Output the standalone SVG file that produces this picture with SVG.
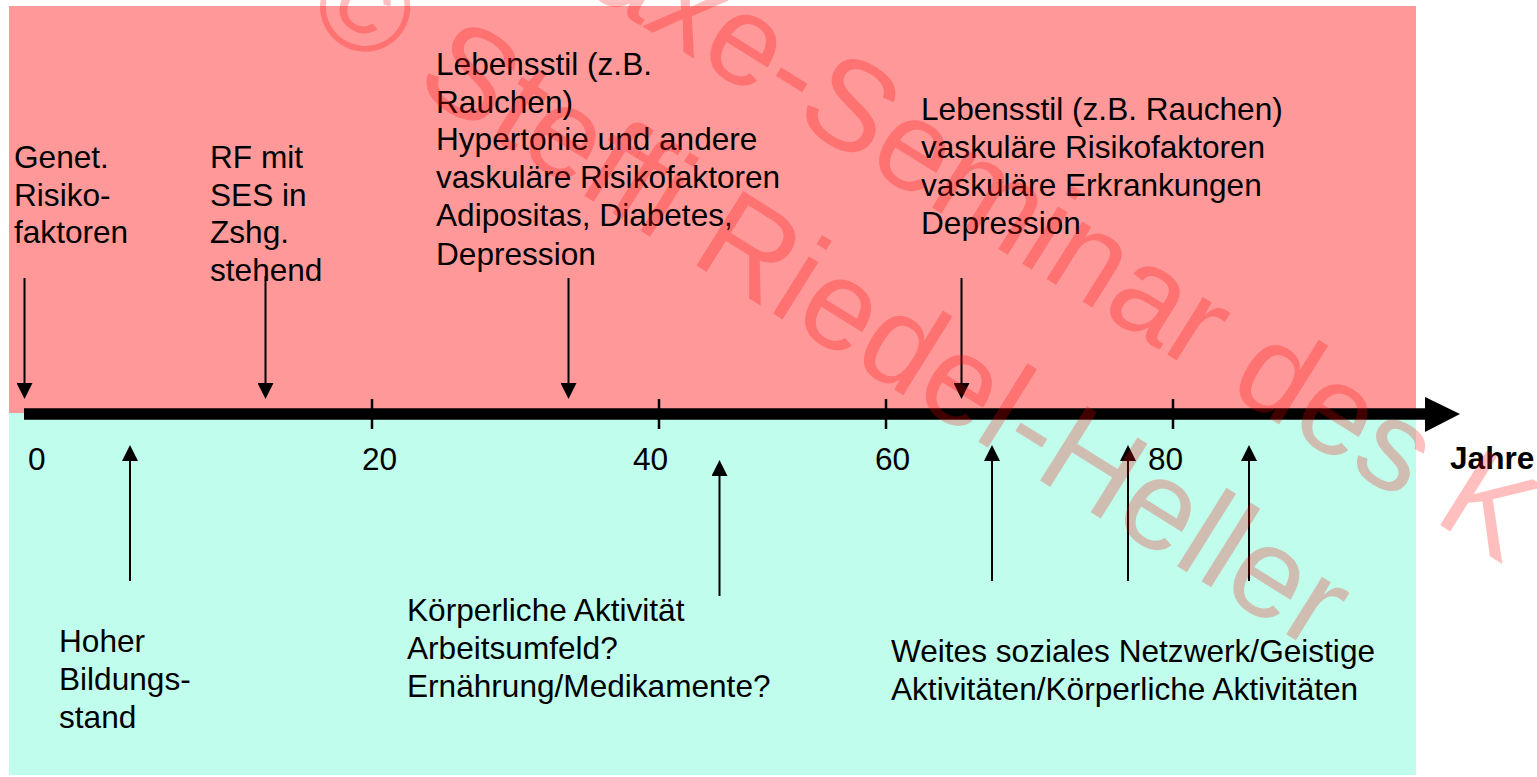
<svg xmlns="http://www.w3.org/2000/svg" width="1537" height="777" viewBox="0 0 1537 777">
<defs>
<style>
.t{font-family:"Liberation Sans",Arial,sans-serif;font-size:31.6px;fill:#000}
.b{font-weight:bold}
.wm{font-family:"Liberation Sans",Arial,sans-serif;font-size:128px;fill:#ff0000;fill-opacity:0.25}
.ar{stroke:#000;stroke-width:2;fill:none}
.tick{stroke:#000;stroke-width:2.5}
</style>
<marker id="head" markerUnits="userSpaceOnUse" viewBox="0 0 16 16" refX="0" refY="8" markerWidth="16" markerHeight="16" orient="auto">
<path d="M0,0 L16,8 L0,16 z" fill="#000"/>
</marker>
</defs>
<rect width="1537" height="777" fill="#fff"/>
<g id="background">
<rect x="9" y="6" width="1407" height="407" fill="#ff9999"/>
<rect x="9" y="413" width="1407" height="362" fill="#c0fdec"/>
</g>
<g id="axis">
<line x1="24" y1="414" x2="1426" y2="414" stroke="#000" stroke-width="11.5"/>
<polygon points="1425,397 1460,414 1425,432" fill="#000"/>
<line class="tick" x1="372" y1="399" x2="372" y2="429"/>
<line class="tick" x1="659" y1="399" x2="659" y2="429"/>
<line class="tick" x1="886" y1="399" x2="886" y2="429"/>
<line class="tick" x1="1173" y1="399" x2="1173" y2="429"/>
<text class="t" x="28" y="470">0</text>
<text class="t" x="362" y="470">20</text>
<text class="t" x="633" y="470">40</text>
<text class="t" x="875" y="470">60</text>
<text class="t" x="1148" y="470">80</text>
<text class="t b" x="1450" y="469">Jahre</text>
</g>
<g id="connectors">
<line class="ar" x1="24.5" y1="278" x2="24.5" y2="383" marker-end="url(#head)"/>
<line class="ar" x1="265.5" y1="276" x2="265.5" y2="383" marker-end="url(#head)"/>
<line class="ar" x1="568.5" y1="278" x2="568.5" y2="383" marker-end="url(#head)"/>
<line class="ar" x1="961.5" y1="278" x2="961.5" y2="383" marker-end="url(#head)"/>
<line class="ar" x1="130" y1="581" x2="130" y2="461" marker-end="url(#head)"/>
<line class="ar" x1="719.5" y1="596" x2="719.5" y2="476" marker-end="url(#head)"/>
<line class="ar" x1="992" y1="581" x2="992" y2="461" marker-end="url(#head)"/>
<line class="ar" x1="1128" y1="581" x2="1128" y2="461" marker-end="url(#head)"/>
<line class="ar" x1="1249" y1="581" x2="1249" y2="461" marker-end="url(#head)"/>
</g>
<g id="genet">
<text class="t" x="14" y="168">Genet.</text>
<text class="t" x="14" y="205.7">Risiko-</text>
<text class="t" x="14" y="243.4">faktoren</text>
</g>
<g id="rf">
<text class="t" x="210" y="168">RF mit</text>
<text class="t" x="210" y="205.7">SES in</text>
<text class="t" x="210" y="243.4">Zshg.</text>
<text class="t" x="210" y="281">stehend</text>
</g>
<g id="lebensstil-mid">
<text class="t" x="436" y="75">Lebensstil (z.B.</text>
<text class="t" x="436" y="112.7">Rauchen)</text>
<text class="t" x="436" y="150.4">Hypertonie und andere</text>
<text class="t" x="436" y="188.1">vaskuläre Risikofaktoren</text>
<text class="t" x="436" y="226.4">Adipositas, Diabetes,</text>
<text class="t" x="436" y="264.5">Depression</text>
</g>
<g id="lebensstil-late">
<text class="t" x="921" y="120">Lebensstil (z.B. Rauchen)</text>
<text class="t" x="921" y="158">vaskuläre Risikofaktoren</text>
<text class="t" x="921" y="196">vaskuläre Erkrankungen</text>
<text class="t" x="921" y="234">Depression</text>
</g>
<g id="bildung">
<text class="t" x="59" y="652">Hoher</text>
<text class="t" x="59" y="690">Bildungs-</text>
<text class="t" x="59" y="727.5">stand</text>
</g>
<g id="aktivitaet">
<text class="t" x="407" y="620.5">Körperliche Aktivität</text>
<text class="t" x="407" y="658.5">Arbeitsumfeld?</text>
<text class="t" x="407" y="696.7">Ernährung/Medikamente?</text>
</g>
<g id="netzwerk">
<text class="t" x="891" y="661.7">Weites soziales Netzwerk/Geistige</text>
<text class="t" x="891" y="700">Aktivitäten/Körperliche Aktivitäten</text>
</g>
<g id="watermark">
<text class="wm" transform="translate(792,120) rotate(32)" x="-356">Maxe-Seminar des K</text>
<text class="wm" transform="translate(412,88) rotate(32)" x="-130">© Steffi Riedel-Heller</text>
</g>
</svg>
